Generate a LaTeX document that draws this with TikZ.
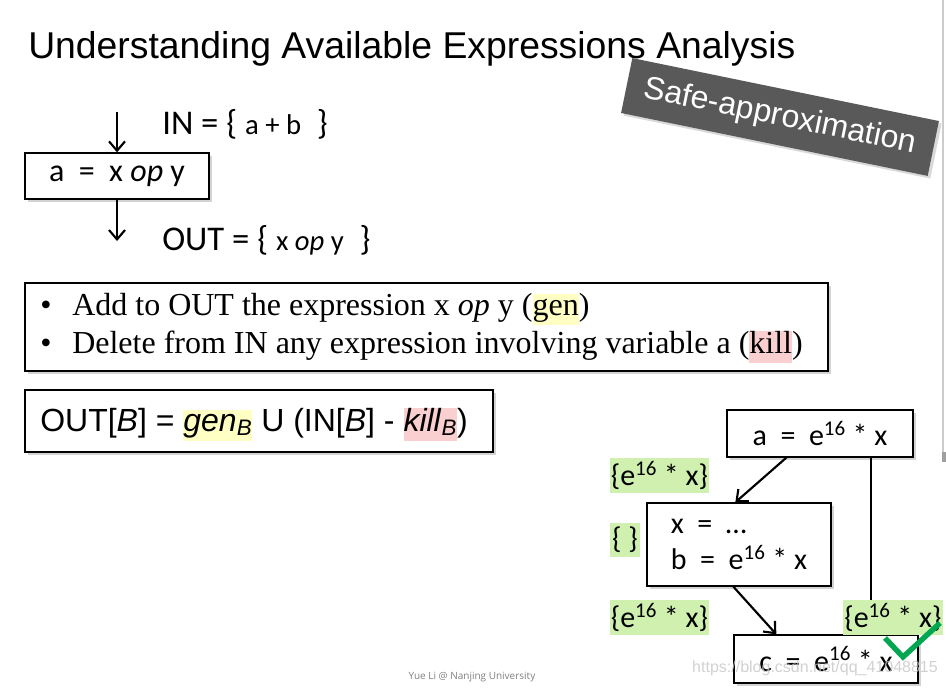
\documentclass[tikz,border=0pt]{standalone}
\usepackage{fontspec}
\setmainfont{Liberation Sans}
\newfontfamily\calibri{Carlito}
\newfontfamily\timesfont{Liberation Serif}
\newfontfamily\footfont{Open Sans}
\usepackage{tikz}
\usetikzlibrary{arrows.meta, positioning, calc, shadows}
\definecolor{slidegray}{HTML}{595959}
\definecolor{hlyellow}{HTML}{FFFFC4}
\definecolor{hlpink}{HTML}{F9CFCF}
\definecolor{hlgreen}{HTML}{D0F0B0}
\definecolor{checkgreen}{HTML}{00A650}
\newcommand{\hlmark}[2]{{\setlength{\fboxsep}{0pt}\colorbox{#1}{\rule[-0.3em]{0pt}{0.95em}#2}}}

\begin{document}
\begin{tikzpicture}[x=0.75pt, y=-0.75pt,
  every node/.style={inner sep=0pt},
  stmtbox/.style={draw=black, line width=1pt, fill=white,
    drop shadow={shadow xshift=2pt, shadow yshift=-2pt, opacity=.35},
    font=\calibri\fontsize{22.5}{27}\selectfont},
  notebox/.style={draw=black, line width=1.4pt, fill=white,
    drop shadow={shadow xshift=2pt, shadow yshift=-2pt, opacity=.35}},
  factlabel/.style={fill=hlgreen, font=\calibri\fontsize{22.5}{27}\selectfont},
  flowarrow/.style={line width=1.6pt, -{Straight Barb[length=7pt, width=12pt]}}]
  \useasboundingbox (0,0) rectangle (946,688);

  % Title
  \node[anchor=base west, font=\fontsize{28}{34}\selectfont] (title) at (28,59)
    {Understanding Available Expressions Analysis};
  \node[fill=slidegray, text=white, rotate=-11.6, minimum width=234.75pt, minimum height=42pt,
    font=\fontsize{24}{28}\selectfont,
    drop shadow={shadow xshift=2pt, shadow yshift=-2pt, opacity=.3}] (safe) at (780,117)
    {Safe-approximation};

  % Single statement
  \node[stmtbox, minimum width=138pt, minimum height=34.5pt, font=\calibri\fontsize{24}{28}\selectfont]
    (stmt) at (117,176) {a~~=~~x \textit{op} y};
  \coordinate (inflow) at (117,112);
  \coordinate (outflow) at (117,241);
  \draw[flowarrow] (inflow) -- (stmt.north);
  \draw[flowarrow] (stmt.south) -- (outflow);
  \node[anchor=base west, font=\calibri\fontsize{26}{30}\selectfont] (inset) at (162,135)
    {IN = \{ {\fontsize{21.5}{24}\selectfont a + b}~~\}};
  \node[anchor=base west, font=\calibri\fontsize{26}{30}\selectfont] (outset) at (162,250)
    {OUT = \{~{\fontsize{21.5}{24}\selectfont x \textit{op} y}~~\}};

  % Rules
  \node[notebox, minimum width=602.25pt, minimum height=66pt] (rules) at (426.5,327) {};
  \foreach \y/\txt in {315/{Add to OUT the expression x \textit{op} y (\hlmark{hlyellow}{gen})},
                       353/{Delete from IN any expression involving variable a (\hlmark{hlpink}{kill})}}{
    \node[anchor=base west, font=\timesfont\fontsize{24}{28}\selectfont] (bullet\y) at (40,\y) {•};
    \node[anchor=base west, font=\timesfont\fontsize{24}{28}\selectfont] (ruletext\y) at (72,\y) {\txt};
  }

  % Transfer function
  \node[notebox, minimum width=351pt, minimum height=46.5pt] (formula) at (259,421) {};
  \node[anchor=base west, font=\fontsize{24}{28}\selectfont] (formulatext) at (40,431)
    {OUT[\textit{B}] = \hlmark{hlyellow}{\textit{gen}\textsubscript{\textit{B}}} U
     (IN[\textit{B}] - \hlmark{hlpink}{\textit{kill}\textsubscript{\textit{B}}})};

  % Example flow graph
  \node[stmtbox, minimum width=139.5pt, minimum height=35.25pt] (defa) at (820,433.5)
    {a~~=~~e\textsuperscript{16} * x};
  \node[stmtbox, minimum width=138pt, minimum height=62.25pt, align=left] (defb) at (739,544.5)
    {x~~=~~…\\b~~=~~e\textsuperscript{16} * x};
  \node[stmtbox, minimum width=138pt, minimum height=36pt] (usec) at (826,659)
    {c~~=~~e\textsuperscript{16} * x};
  \draw[flowarrow] ($(defa.south west)+(60,0)$) -- ($(defb.north west)+(89,0)$);
  \draw[flowarrow] ($(defb.south west)+(87,0)$) -- ($(usec.north west)+(43,0)$);
  \draw[flowarrow] ($(defa.south west)+(145,0)$) -- ($(usec.north west)+(138,0)$);

  % Facts
  \node[factlabel, minimum width=74.25pt, minimum height=26.25pt] (ina) at (659.5,475.5)
    {\{e\textsuperscript{16} * x\}};
  \node[factlabel, minimum width=22.5pt, minimum height=25.5pt] (outb) at (625,540) {\{~\}};
  \node[factlabel, minimum width=74.25pt, minimum height=26.25pt] (inleft) at (659.5,617)
    {\{e\textsuperscript{16} * x\}};
  \node[factlabel, minimum width=75pt, minimum height=26.25pt] (inright) at (893,617)
    {\{e\textsuperscript{16} * x\}};
  \draw[checkgreen, line width=4pt] (885,638) -- (903,657) -- (940,623);

  % Footer
  \node[text=gray!45, opacity=.8, font=\fontsize{12}{14}\selectfont] (mark) at (815,668)
    {https://blog.csdn.net/qq\_41048815};
  \node[text=gray, font=\footfont\fontsize{7.5}{9}\selectfont] (credit) at (472,677)
    {Yue Li @ Nanjing University};
  \draw[gray!40, line width=1pt] (943,0) -- (943,452);
  \fill[gray!75] (942,452) rectangle (946,462);
\end{tikzpicture}
\end{document}
